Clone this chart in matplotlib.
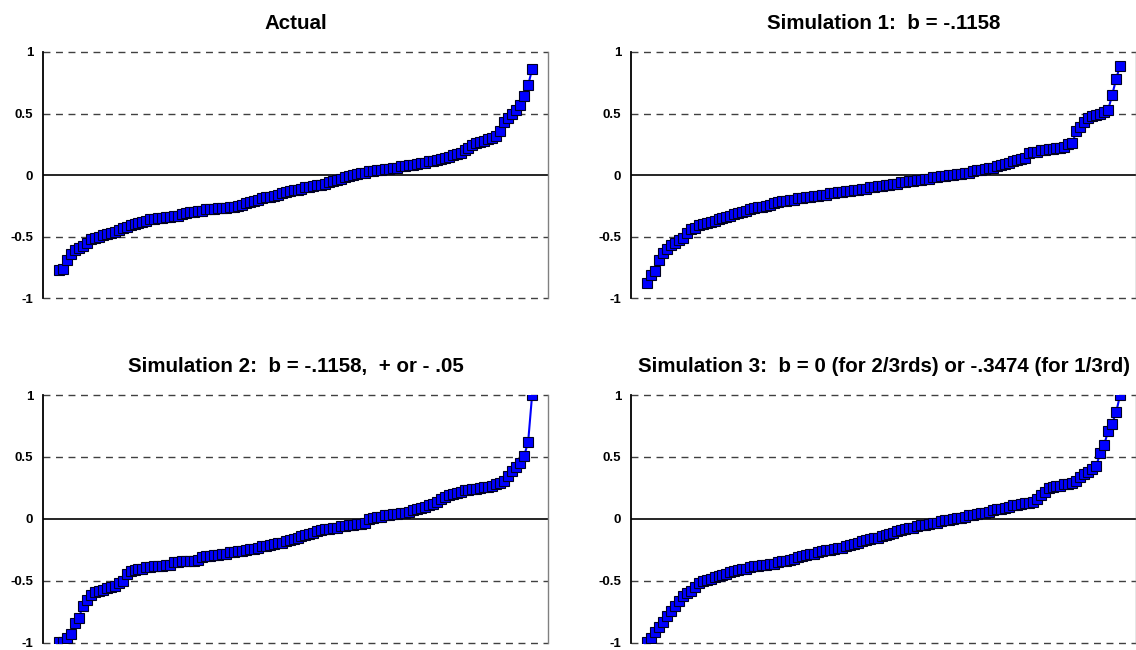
import matplotlib
matplotlib.use("Agg")
import matplotlib.pyplot as plt
import numpy as np

plt.rcParams['font.family'] = ['Liberation Sans', 'DejaVu Sans']

titles = [
    "Actual",
    "Simulation 1:  b = -.1158",
    "Simulation 2:  b = -.1158,  + or - .05",
    "Simulation 3:  b = 0 (for 2/3rds) or -.3474 (for 1/3rd)",
]

actual = [
    -0.77, -0.76, -0.69, -0.64, -0.61, -0.59, -0.58, -0.55, -0.52, -0.51,
    -0.50, -0.49, -0.48, -0.47, -0.46, -0.45, -0.43, -0.42, -0.41, -0.40,
    -0.39, -0.38, -0.37, -0.36, -0.36, -0.35, -0.35, -0.34, -0.34, -0.33,
    -0.33, -0.32, -0.31, -0.30, -0.30, -0.29, -0.29, -0.28, -0.28, -0.28,
    -0.27, -0.27, -0.27, -0.26, -0.26, -0.25, -0.24, -0.23, -0.22, -0.21,
    -0.20, -0.19, -0.18, -0.18, -0.17, -0.16, -0.15, -0.14, -0.13, -0.12,
    -0.12, -0.11, -0.10, -0.10, -0.09, -0.08, -0.08, -0.07, -0.06, -0.05,
    -0.04, -0.03, -0.02, -0.01, 0.00, 0.01, 0.02, 0.02, 0.03, 0.03,
    0.04, 0.04, 0.05, 0.05, 0.06, 0.06, 0.07, 0.07, 0.08, 0.08,
    0.09, 0.10, 0.10, 0.11, 0.11, 0.12, 0.13, 0.14, 0.15, 0.16,
    0.17, 0.18, 0.20, 0.22, 0.24, 0.26, 0.27, 0.28, 0.29, 0.30,
    0.32, 0.36, 0.43, 0.46, 0.50, 0.53, 0.57, 0.64, 0.73, 0.86,
]

sim1 = [
    -0.88, -0.81, -0.78, -0.69, -0.63, -0.60, -0.57, -0.55, -0.53, -0.51,
    -0.47, -0.44, -0.43, -0.41, -0.40, -0.39, -0.38, -0.37, -0.36, -0.35,
    -0.34, -0.33, -0.32, -0.31, -0.30, -0.29, -0.28, -0.27, -0.26, -0.26,
    -0.25, -0.24, -0.23, -0.22, -0.21, -0.21, -0.20, -0.20, -0.19, -0.19,
    -0.18, -0.18, -0.17, -0.17, -0.16, -0.16, -0.15, -0.15, -0.14, -0.14,
    -0.13, -0.13, -0.12, -0.12, -0.11, -0.11, -0.10, -0.10, -0.09, -0.09,
    -0.08, -0.08, -0.07, -0.07, -0.06, -0.06, -0.05, -0.05, -0.04, -0.04,
    -0.03, -0.03, -0.02, -0.02, -0.01, -0.01, 0.00, 0.00, 0.01, 0.01,
    0.02, 0.02, 0.03, 0.04, 0.04, 0.05, 0.06, 0.06, 0.07, 0.08,
    0.09, 0.10, 0.11, 0.12, 0.13, 0.14, 0.18, 0.19, 0.19, 0.20,
    0.20, 0.21, 0.21, 0.22, 0.22, 0.23, 0.25, 0.26, 0.36, 0.39,
    0.43, 0.46, 0.48, 0.49, 0.50, 0.51, 0.53, 0.65, 0.78, 0.89,
]

sim2 = [
    -0.99, -0.99, -0.96, -0.93, -0.84, -0.80, -0.70, -0.65, -0.61, -0.59,
    -0.58, -0.57, -0.56, -0.55, -0.54, -0.52, -0.50, -0.44, -0.42, -0.41,
    -0.40, -0.40, -0.39, -0.39, -0.38, -0.38, -0.38, -0.37, -0.37, -0.35,
    -0.35, -0.34, -0.34, -0.34, -0.34, -0.33, -0.31, -0.30, -0.30, -0.29,
    -0.29, -0.28, -0.28, -0.27, -0.27, -0.26, -0.26, -0.25, -0.24, -0.24,
    -0.23, -0.22, -0.22, -0.21, -0.20, -0.19, -0.19, -0.18, -0.17, -0.16,
    -0.15, -0.14, -0.13, -0.12, -0.11, -0.10, -0.09, -0.08, -0.08, -0.07,
    -0.07, -0.06, -0.06, -0.05, -0.05, -0.04, -0.04, -0.03, 0.00, 0.01,
    0.02, 0.02, 0.03, 0.03, 0.04, 0.04, 0.05, 0.05, 0.06, 0.07,
    0.08, 0.09, 0.10, 0.11, 0.12, 0.14, 0.16, 0.18, 0.19, 0.20,
    0.21, 0.22, 0.23, 0.23, 0.24, 0.24, 0.25, 0.26, 0.26, 0.27,
    0.28, 0.29, 0.31, 0.35, 0.39, 0.42, 0.45, 0.51, 0.62, 1.00,
]

sim3 = [
    -0.99, -0.96, -0.91, -0.87, -0.83, -0.78, -0.74, -0.70, -0.66, -0.62,
    -0.60, -0.58, -0.55, -0.52, -0.50, -0.49, -0.48, -0.47, -0.46, -0.45,
    -0.44, -0.43, -0.42, -0.41, -0.40, -0.40, -0.39, -0.38, -0.38, -0.37,
    -0.37, -0.36, -0.36, -0.35, -0.34, -0.34, -0.33, -0.32, -0.31, -0.30,
    -0.29, -0.28, -0.28, -0.27, -0.26, -0.25, -0.25, -0.24, -0.23, -0.23,
    -0.22, -0.21, -0.20, -0.19, -0.18, -0.17, -0.16, -0.15, -0.15, -0.14,
    -0.13, -0.12, -0.11, -0.10, -0.09, -0.08, -0.07, -0.07, -0.06, -0.05,
    -0.05, -0.04, -0.03, -0.03, -0.02, -0.01, -0.01, 0.00, 0.01, 0.01,
    0.02, 0.03, 0.03, 0.04, 0.05, 0.05, 0.06, 0.07, 0.08, 0.08,
    0.09, 0.10, 0.11, 0.11, 0.12, 0.13, 0.13, 0.14, 0.16, 0.19,
    0.22, 0.25, 0.26, 0.27, 0.27, 0.28, 0.28, 0.29, 0.31, 0.34,
    0.36, 0.38, 0.40, 0.43, 0.53, 0.60, 0.71, 0.77, 0.86, 1.00,
]

series = [actual, sim1, sim2, sim3]
y_ticks = [-1, -0.5, 0, 0.5, 1]
y_tick_labels = ["-1", "-0.5", "0", "0.5", "1"]

fig = plt.figure(figsize=(11.36, 6.5), dpi=100)

# axes boxes in figure fractions: left, bottom, width, height
boxes = [
    [0.0379, 0.5415, 0.4445, 0.3785],
    [0.5555, 0.5415, 0.4445, 0.3785],
    [0.0379, 0.0108, 0.4445, 0.3815],
    [0.5555, 0.0108, 0.4445, 0.3815],
]

for box, title, vals in zip(boxes, titles, series):
    ax = fig.add_axes(box)
    x = np.arange(len(vals))
    ax.plot(x, vals, color='#0000ff', lw=1.5, marker='s', markersize=6.8,
            markerfacecolor='#0000ff', markeredgecolor='#000022',
            markeredgewidth=0.8, zorder=3)

    ax.set_xlim(-4, len(vals) + 3)
    ax.set_ylim(-1, 1)

    # dashed gridlines, the ones at +/-1 act as top and bottom border
    for lev in [-1, -0.5, 0.5, 1]:
        ax.axhline(lev, color='#404040', lw=1.0, ls=(0, (5, 4)),
                   clip_on=False, zorder=1)
    ax.axhline(0, color='black', lw=1.2, zorder=2)

    ax.spines['top'].set_visible(False)
    ax.spines['bottom'].set_visible(False)
    ax.spines['left'].set_color('black')
    ax.spines['left'].set_linewidth(1.3)
    ax.spines['right'].set_color('#808080')
    ax.spines['right'].set_linewidth(1.0)

    ax.set_xticks([])
    ax.set_yticks(y_ticks)
    ax.set_yticklabels(y_tick_labels, fontsize=9.5, fontweight='bold')
    ax.tick_params(axis='y', length=0, pad=7)

    ax.set_title(title, fontsize=14.8, fontweight='bold', pad=16.5)

fig.savefig("out.png", dpi=100)
